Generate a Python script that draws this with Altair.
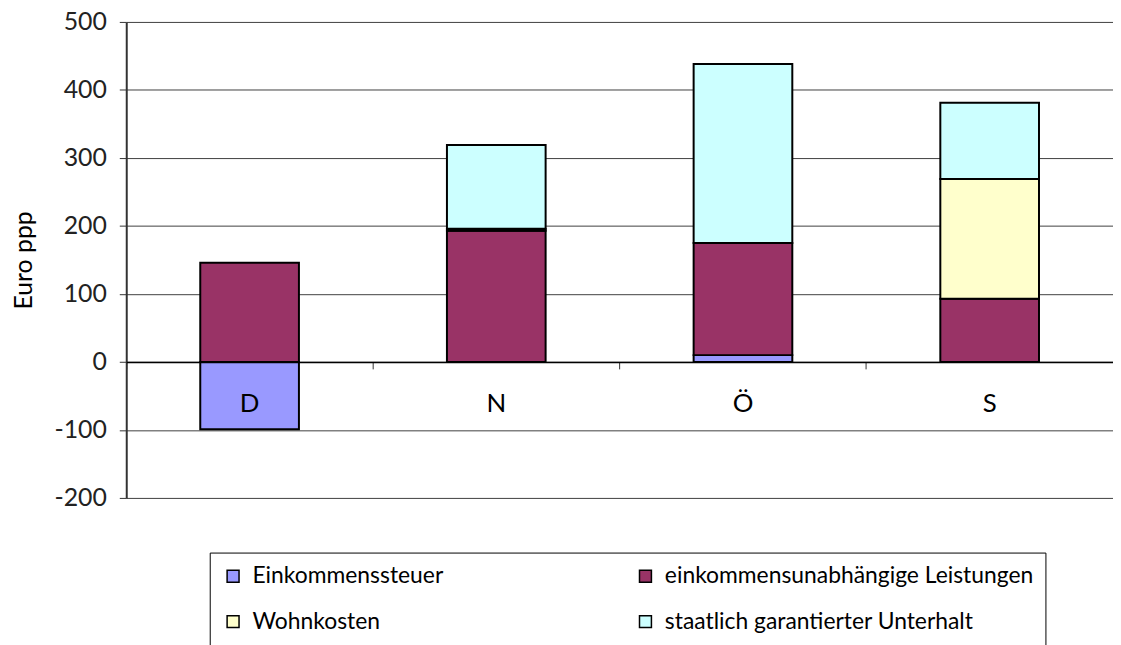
import altair as alt
import pandas as pd

laender = ["D", "N", "Ö", "S"]
komponenten = [
    "Einkommenssteuer",
    "einkommensunabhängige Leistungen",
    "Wohnkosten",
    "staatlich garantierter Unterhalt",
]
farben = ["#9999FF", "#993366", "#FFFFCC", "#CCFFFF"]

einkommenssteuer = [-99, 0, 10, 0]
leistungen = [146, 193, 165, 93]
wohnkosten = [0, 3, 0, 176]
unterhalt = [0, 123, 263, 112]

y_ticks = [-200, -100, 0, 100, 200, 300, 400, 500]

rows = []
for i, land in enumerate(laender):
    for k, (name, serie) in enumerate(zip(komponenten, [einkommenssteuer, leistungen, wohnkosten, unterhalt])):
        if serie[i] != 0:
            rows.append({"Land": land, "Komponente": name, "Wert": serie[i], "Reihenfolge": k})
df = pd.DataFrame(rows)

W, H = 993, 479
zero_offset = -(H - H * 500 / 700)
FONT = "Lato"

bars = alt.Chart(df).mark_bar(
    stroke="black", strokeWidth=2, width=alt.RelativeBandSize(0.4)
).encode(
    x=alt.X(
        "Land:N",
        sort=laender,
        scale=alt.Scale(paddingInner=0, paddingOuter=0),
        axis=alt.Axis(
            title=None,
            labelAngle=0,
            bandPosition=0,
            offset=zero_offset,
            zindex=1,
            domainColor="black",
            domainWidth=1.5,
            tickColor="#333333",
            tickSize=7,
            labelFontSize=26,
            labelPadding=22,
            labelColor="black",
            labelFont=FONT,
            grid=False,
        ),
    ),
    y=alt.Y(
        "Wert:Q",
        stack="zero",
        scale=alt.Scale(domain=[-200, 500], nice=False),
        axis=alt.Axis(
            values=y_ticks,
            labelExpr="datum.value",
            title="Euro ppp",
            titleFontSize=25,
            titleFontWeight="normal",
            titleFont=FONT,
            titleColor="black",
            titlePadding=18,
            labelFontSize=25,
            labelFont=FONT,
            labelColor="#222222",
            labelPadding=13,
            tickSize=7,
            tickColor="#333333",
            domainColor="#333333",
            domainWidth=2,
            gridColor="#404040",
            gridWidth=1,
        ),
    ),
    color=alt.Color(
        "Komponente:N",
        scale=alt.Scale(domain=komponenten, range=farben),
        legend=alt.Legend(
            title=None,
            orient="none",
            direction="horizontal",
            legendX=84,
            legendY=534,
            columns=2,
            columnPadding=191,
            rowPadding=22,
            symbolType="square",
            symbolSize=144,
            symbolStrokeColor="black",
            symbolStrokeWidth=1.5,
            labelFontSize=23,
            labelFont=FONT,
            labelColor="black",
            labelOffset=8,
            labelLimit=450,
            strokeColor="black",
            padding=12,
        ),
    ),
    order=alt.Order("Reihenfolge:Q"),
)

chart = bars.properties(
    width=W,
    height=H,
    autosize=alt.AutoSizeParams(type="none"),
    padding={"left": 119, "top": 12, "right": 0, "bottom": 146},
).configure_view(stroke=None)

chart.save("out.html", embed_options={"renderer": "svg", "actions": False})
